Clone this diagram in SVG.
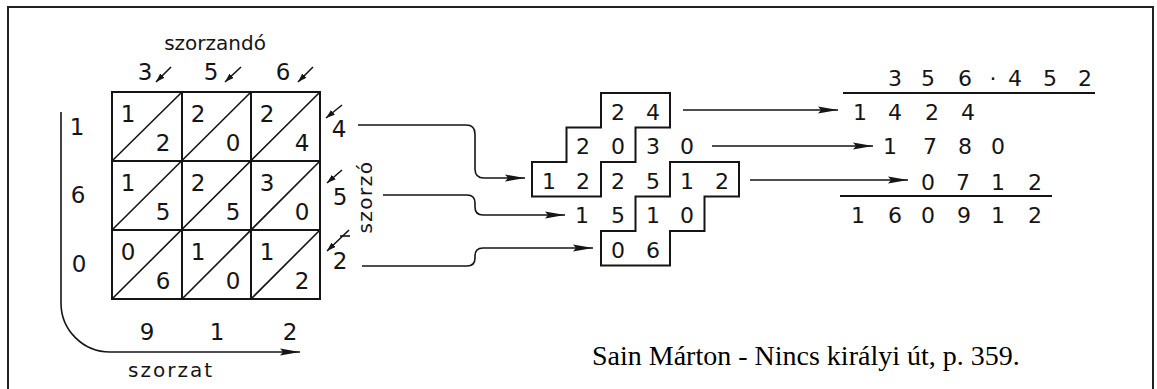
<svg xmlns="http://www.w3.org/2000/svg" width="1157" height="389" viewBox="0 0 1157 389">
<style>
.ln{fill:none;stroke:#151515;stroke-width:2}
.th{fill:none;stroke:#151515;stroke-width:1.6}
.d{font-family:"DejaVu Sans",sans-serif;font-size:22px;fill:#151515;text-anchor:middle}
.g{font-size:23px}
.lbl{font-family:"DejaVu Sans",sans-serif;font-size:20px;fill:#151515}
.cap{font-family:"Liberation Serif",serif;font-size:28px;fill:#000}
</style>
<defs>
<marker id="ar" viewBox="0 0 20 8" refX="20" refY="4" markerWidth="20" markerHeight="8" markerUnits="userSpaceOnUse" orient="auto">
<path d="M0,0.5 L20,4 L0,7.5 L3,4 z" fill="#151515"/>
</marker>
<marker id="sm" viewBox="0 0 9 6" refX="9" refY="3" markerWidth="9" markerHeight="6" markerUnits="userSpaceOnUse" orient="auto">
<path d="M0,0 L9,3 L0,6 z" fill="#151515"/>
</marker>
</defs>
<rect x="8" y="7" width="1145" height="400" fill="none" stroke="#222" stroke-width="2"/>

<g id="grid">
<rect x="112" y="92" width="208" height="207" class="ln"/>
<path class="ln" d="M182,92 V299 M251,92 V299 M112,161 H320 M112,230 H320"/>
<path class="th" d="M112,161 L182,92 M112,230 L251,92 M112,299 L320,92 M182,299 L320,161 M251,299 L320,230"/>
<g class="d g">
<text x="128" y="122">1</text><text x="163" y="151">2</text>
<text x="198" y="122">2</text><text x="233" y="151">0</text>
<text x="267" y="122">2</text><text x="302" y="151">4</text>
<text x="128" y="191">1</text><text x="163" y="220">5</text>
<text x="198" y="191">2</text><text x="233" y="220">5</text>
<text x="267" y="191">3</text><text x="302" y="220">0</text>
<text x="128" y="260">0</text><text x="163" y="289">6</text>
<text x="198" y="260">1</text><text x="233" y="289">0</text>
<text x="267" y="260">1</text><text x="302" y="289">2</text>
</g>
</g>

<g id="multiplicand">
<text class="lbl" x="215" y="50" text-anchor="middle">szorzandó</text>
<g class="d g">
<text x="145" y="80">3</text><text x="211" y="80">5</text><text x="283" y="80">6</text>
</g>
<path class="th" d="M171,67 L156,82" marker-end="url(#sm)"/>
<path class="th" d="M241,67 L225,82" marker-end="url(#sm)"/>
<path class="th" d="M313,67 L298,82" marker-end="url(#sm)"/>
</g>

<g id="multiplier">
<g class="d g">
<text x="339" y="137">4</text><text x="340" y="205">5</text><text x="340" y="269">2</text>
</g>
<path class="th" d="M342,105 L326,118" marker-end="url(#sm)"/>
<path class="th" d="M342,170 L327,183" marker-end="url(#sm)"/>
<path class="th" d="M349,230 L327,251" marker-end="url(#sm)"/>
<path class="th" d="M340,236 H350"/>
<text class="lbl" font-size="19" letter-spacing="1.5" text-anchor="middle" transform="translate(372,197) rotate(-90)">szorzó</text>
</g>

<g id="product">
<path class="th" d="M61,112 V303 A49,49 0 0 0 110,352 H300" marker-end="url(#ar)"/>
<g class="d g">
<text x="77" y="135">1</text><text x="78" y="203">6</text><text x="79" y="272">0</text>
<text x="147" y="340">9</text><text x="217" y="340">1</text><text x="290" y="340">2</text>
</g>
<text class="lbl" x="128" y="377" letter-spacing="2">szorzat</text>
</g>

<g id="staircase">
<path class="ln" d="M601,93 H670 V127.5 H635.5 V162 H601 V196.5 H532 V162 H566.5 V127.5 H601 Z"/>
<path class="ln" d="M670,162 H739 V196.5 H704.5 V231 H670 V265.5 H601 V231 H635.5 V196.5 H670 Z"/>
<g class="d">
<text x="618" y="119.5">2</text><text x="653" y="119.5">4</text>
<text x="583" y="154">2</text><text x="618" y="154">0</text><text x="653" y="154">3</text><text x="687" y="154">0</text>
<text x="549" y="188.5">1</text><text x="583" y="188.5">2</text><text x="618" y="188.5">2</text><text x="653" y="188.5">5</text><text x="687" y="188.5">1</text><text x="722" y="188.5">2</text>
<text x="582" y="223">1</text><text x="618" y="223">5</text><text x="653" y="223">1</text><text x="687" y="223">0</text>
<text x="618" y="258">0</text><text x="653" y="258">6</text>
</g>
</g>

<g id="result">
<g class="d">
<text x="895" y="86">3</text><text x="928" y="86">5</text><text x="965" y="86">6</text><text x="993" y="86">·</text><text x="1015" y="86">4</text><text x="1050" y="86">5</text><text x="1085" y="86">2</text>
<text x="860" y="120">1</text><text x="895" y="120">4</text><text x="932" y="120">2</text><text x="968" y="120">4</text>
<text x="890" y="154">1</text><text x="930" y="154">7</text><text x="965" y="154">8</text><text x="998" y="154">0</text>
<text x="928" y="190">0</text><text x="963" y="190">7</text><text x="998" y="190">1</text><text x="1035" y="190">2</text>
<text x="858" y="223">1</text><text x="895" y="223">6</text><text x="928" y="223">0</text><text x="964" y="223">9</text><text x="998" y="223">1</text><text x="1035" y="223">2</text>
</g>
<path class="ln" d="M843,93 H1095 M840,196 H1052"/>
</g>

<g id="connectors">
<path class="th" d="M358,125 H466 Q475,125 475,134 V169 Q475,178 484,178 H525" marker-end="url(#ar)"/>
<path class="th" d="M383,195 H467 Q475,195 475,203 V207 Q475,215 483,215 H565" marker-end="url(#ar)"/>
<path class="th" d="M362,266 H467 Q475,266 475,258 V256 Q475,248 483,248 H593" marker-end="url(#ar)"/>
<path class="th" d="M683,110 H838" marker-end="url(#ar)"/>
<path class="th" d="M712,146 H873" marker-end="url(#ar)"/>
<path class="th" d="M750,180 H908" marker-end="url(#ar)"/>
</g>

<text class="cap" x="592" y="365">Sain Márton - Nincs királyi út, p. 359.</text>
</svg>
